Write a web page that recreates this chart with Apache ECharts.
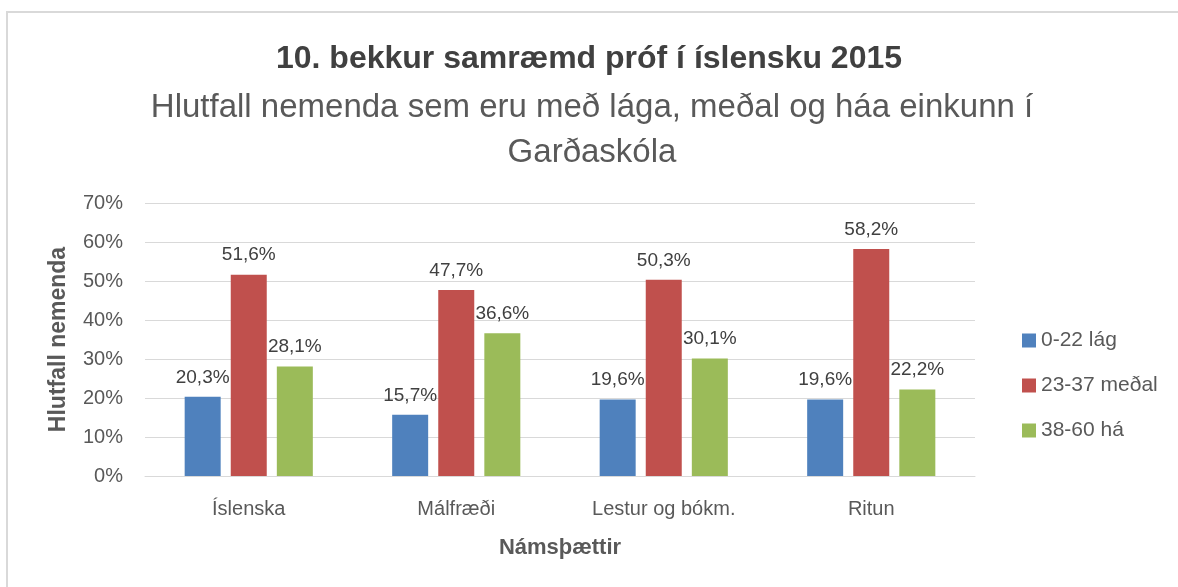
<!DOCTYPE html>
<html>
<head>
<meta charset="utf-8">
<script src="https://cdn.jsdelivr.net/npm/echarts@6/dist/echarts.min.js"></script>
<style>html,body{margin:0;padding:0;background:#fff;}#c{width:1178px;height:587px;}</style>
</head>
<body>
<div id="c"></div>
<script>
const categories = ['Íslenska', 'Málfræði', 'Lestur og bókm.', 'Ritun'];
const seriesNames = ['0-22 lág', '23-37 meðal', '38-60 há'];
const lowValues = [20.3, 15.7, 19.6, 19.6];
const midValues = [51.6, 47.7, 50.3, 58.2];
const highValues = [28.1, 36.6, 30.1, 22.2];
const yTicks = [0, 10, 20, 30, 40, 50, 60, 70];
const colors = ['#4F81BD', '#C0504D', '#9BBB59'];

const FONT = 'Liberation Sans';
const chart = echarts.init(document.getElementById('c'));
const fmt = v => String(v.toFixed(1)).replace('.', ',') + '%';
function mk(name, data, color) {
  return {
    name, type: 'bar', data, barWidth: 36, barGap: '28%',
    itemStyle: { color },
    label: { show: true, position: 'top', distance: 10, color: '#404040', fontSize: 19, fontFamily: FONT,
      formatter: p => fmt(p.value) }
  };
}
chart.setOption({
  animation: false,
  textStyle: { fontFamily: FONT },
  graphic: [{ type: 'rect', shape: { x: 7, y: 12, width: 1200, height: 600 }, style: { fill: 'none', stroke: '#D9D9D9', lineWidth: 2 }, z: -1 }],
  title: [
    { text: '10. bekkur samræmd próf í íslensku 2015', left: 'center', top: 38,
      textStyle: { fontSize: 32, fontWeight: 'bold', color: '#404040', fontFamily: FONT } },
    { text: 'Hlutfall nemenda sem eru með lága, meðal og háa einkunn í\nGarðaskóla', left: 587, top: 80,
      textAlign: 'center',
      textStyle: { fontSize: 33, fontWeight: 'normal', color: '#595959', lineHeight: 45, fontFamily: FONT } }
  ],
  legend: {
    orient: 'vertical', left: 1017, top: 325, itemWidth: 14, itemHeight: 14, itemGap: 24,
    icon: 'rect', data: seriesNames,
    textStyle: { fontSize: 21, color: '#595959', fontFamily: FONT }
  },
  grid: { left: 145, right: 203, top: 203, bottom: 111, containLabel: false },
  xAxis: {
    type: 'category', data: categories,
    axisLine: { lineStyle: { color: '#D9D9D9', width: 1 } },
    axisTick: { show: false },
    axisLabel: { color: '#595959', fontSize: 20, margin: 23, fontFamily: FONT },
    name: 'Námsþættir', nameLocation: 'middle', nameGap: 61,
    nameTextStyle: { fontSize: 22, fontWeight: 'bold', color: '#595959', fontFamily: FONT }
  },
  yAxis: {
    type: 'value', min: yTicks[0], max: yTicks[yTicks.length - 1], interval: 10,
    axisLine: { show: false }, axisTick: { show: false },
    splitLine: { lineStyle: { color: '#D9D9D9', width: 1 } },
    axisLabel: { color: '#595959', fontSize: 20, margin: 22, fontFamily: FONT, formatter: v => v + '%' },
    name: 'Hlutfall nemenda', nameLocation: 'middle', nameGap: 75, nameRotate: 90,
    nameTextStyle: { fontSize: 23, fontWeight: 'bold', color: '#595959', fontFamily: FONT }
  },
  series: [
    mk(seriesNames[0], lowValues, colors[0]),
    mk(seriesNames[1], midValues, colors[1]),
    mk(seriesNames[2], highValues, colors[2])
  ]
});
</script>
</body>
</html>
